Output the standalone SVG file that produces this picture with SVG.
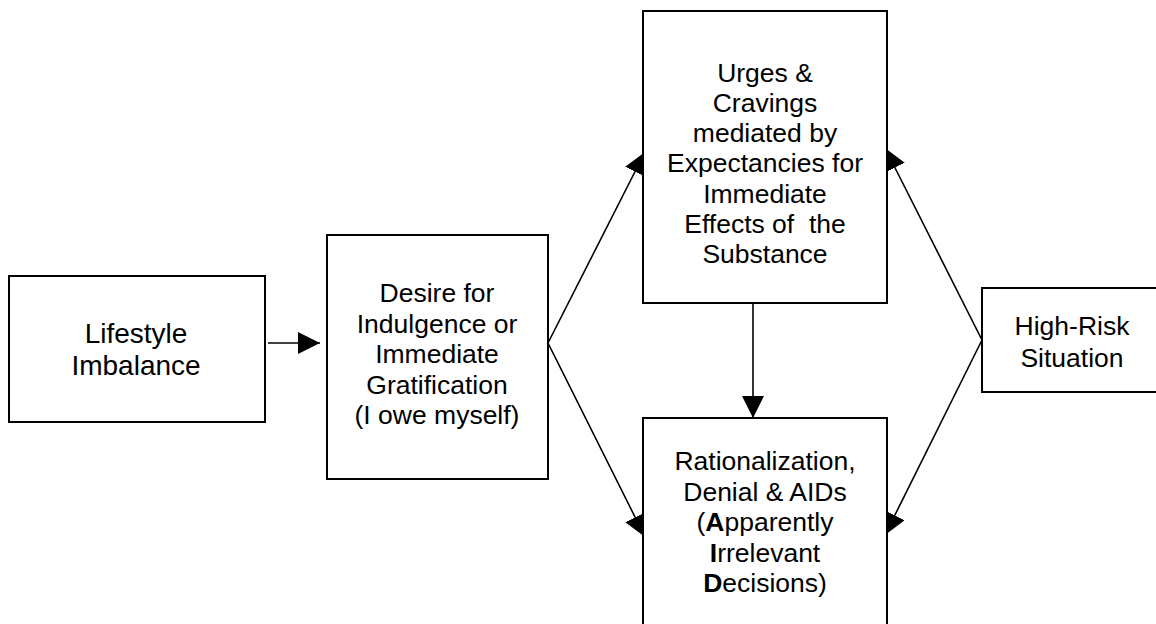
<svg xmlns="http://www.w3.org/2000/svg" width="1156" height="624" viewBox="0 0 1156 624">
<style>
.box{fill:#fff;stroke:#000;stroke-width:2}
.t{font-family:"Liberation Sans",Arial,sans-serif;font-size:26.5px;fill:#000;text-anchor:middle}
.big{font-size:28px}
.c{stroke:#000;stroke-width:1.6;fill:none;marker-end:url(#ah)}
</style>
<defs>
<marker id="ah" markerUnits="userSpaceOnUse" markerWidth="22" markerHeight="22" refX="20" refY="10" orient="auto" viewBox="0 0 20 20">
<path d="M0,0 L20,10 L0,20 z" fill="#000"/>
</marker>
</defs>
<rect width="1156" height="624" fill="#fff"/>
<g id="connectors">
<line class="c" x1="268" y1="343" x2="320" y2="343"/>
<line class="c" x1="548" y1="343" x2="645" y2="152"/>
<line class="c" x1="548" y1="343" x2="645" y2="537"/>
<line class="c" x1="753" y1="303" x2="753" y2="418"/>
<line class="c" x1="982" y1="340" x2="885" y2="148"/>
<line class="c" x1="982" y1="340" x2="885" y2="535"/>
</g>
<g id="lifestyle">
<rect class="box" x="9" y="276" width="256" height="146"/>
<text class="t big" x="136" y="343">Lifestyle</text>
<text class="t big" x="136" y="375">Imbalance</text>
</g>
<g id="desire">
<rect class="box" x="327" y="235" width="221" height="244"/>
<text class="t" x="437" y="302">Desire for</text>
<text class="t" x="437" y="332.5">Indulgence or</text>
<text class="t" x="437" y="363">Immediate</text>
<text class="t" x="437" y="393.5">Gratification</text>
<text class="t" x="437" y="424">(I owe myself)</text>
</g>
<g id="urges">
<rect class="box" x="643" y="11" width="244" height="292"/>
<text class="t" x="765" y="81.5">Urges &amp;</text>
<text class="t" x="765" y="111.8">Cravings</text>
<text class="t" x="765" y="142.1">mediated by</text>
<text class="t" x="765" y="172.4">Expectancies for</text>
<text class="t" x="765" y="202.7">Immediate</text>
<text class="t" x="765" y="233" xml:space="preserve">Effects of  the</text>
<text class="t" x="765" y="263.3">Substance</text>
</g>
<g id="rationalization">
<rect class="box" x="643" y="418" width="244" height="230"/>
<text class="t" x="765" y="470">Rationalization,</text>
<text class="t" x="765" y="500.5">Denial &amp; AIDs</text>
<text class="t" x="765" y="531">(<tspan font-weight="bold">A</tspan>pparently</text>
<text class="t" x="765" y="561.5"><tspan font-weight="bold">I</tspan>rrelevant</text>
<text class="t" x="765" y="592"><tspan font-weight="bold">D</tspan>ecisions)</text>
</g>
<g id="highrisk">
<rect class="box" x="982" y="288" width="200" height="104"/>
<text class="t" x="1072" y="335">High-Risk</text>
<text class="t" x="1072" y="366.5">Situation</text>
</g>
</svg>
